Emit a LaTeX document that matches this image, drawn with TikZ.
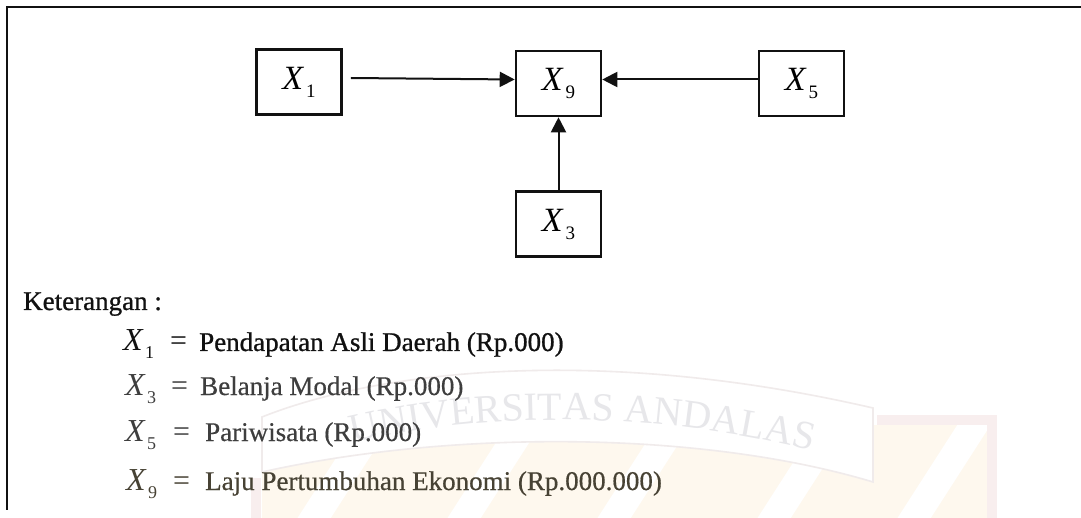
\documentclass[tikz,border=0pt]{standalone}
\usepackage{fontspec}
\setmainfont{Liberation Serif}
\newfontfamily\heavyserif[FakeBold=0.9]{Liberation Serif}
\newfontfamily\midserif[FakeBold=0.5]{Liberation Serif}
\usetikzlibrary{arrows.meta,decorations.text}

\definecolor{ink}{HTML}{111111}
\definecolor{greyink}{HTML}{3E3E3E}
\definecolor{oliveink}{HTML}{474234}
\definecolor{wmgrey}{HTML}{E7E7EA}
\definecolor{wmline}{HTML}{F0EBEB}
\definecolor{wmpeach}{HTML}{FEF8EE}
\definecolor{wmpink}{HTML}{F8EEEE}

\newcommand{\fs}[1]{\fontsize{#1}{#1}\selectfont}
% variable with subscript, as set inside the boxes and in the legend
\newcommand{\boxvar}[1]{{\fs{34}\itshape X}\kern3pt\raisebox{-8pt}{\fs{19}#1}}
\newcommand{\legvar}[1]{{\fs{32}\itshape X}\kern2.5pt\raisebox{-8pt}{\fs{18}#1}}

\begin{document}
\begin{tikzpicture}[x=1pt,y=-1pt,
  varbox/.style={draw=ink, line width=2.6pt, minimum width=85pt, minimum height=65pt, inner sep=0pt},
  link/.style={draw=ink, line width=2pt, -{Triangle[length=15pt,width=15pt]}},
  legtext/.style={anchor=base west, inner sep=0pt, font=\midserif\fs{27}},
  legstrong/.style={legtext, font=\heavyserif\fs{27}},
  legsym/.style={anchor=base west, inner sep=0pt},
]
\useasboundingbox (0,0) rectangle (1081,518);
\fill[white] (0,0) rectangle (1081,518);

% faint university emblem behind the legend
\begin{scope}
  \clip (262,472) .. controls (450,430) and (700,430) .. (873,482) -- (873,425) -- (990,425) -- (990,518) -- (262,518) -- cycle;
  \fill[wmpeach] (250,400) rectangle (1000,518);
  \foreach \sx in {300,450,600,760,900} {
    \draw[white, line width=28pt] (\sx,540) -- (\sx+90,400);
  }
\end{scope}
\draw[wmpink, line width=10pt] (256,518) -- (256,478);
\draw[wmpink, line width=10pt] (877,420) -- (992,420) -- (992,518);
\draw[wmline, line width=1.6pt]
  (262,417) .. controls (380,370) and (600,345) .. (873,408)
  -- (873,482) .. controls (700,430) and (450,430) .. (262,472) -- cycle;
\path[decorate, decoration={text along path, text align=center,
      text={|\fs{40}\color{wmgrey}|UNIVERSITAS ANDALAS}}]
  (300,458) .. controls (450,406) and (680,406) .. (865,466);

% frame
\draw[ink, line width=2.6pt] (1081,7) -- (7,7) -- (7,510);

% model
\node[varbox] (x1) at (299,82) {\boxvar{1}};
\node[varbox] (x9) at (558.5,83.5) {\boxvar{9}};
\node[varbox] (x5) at (801.5,83.5) {\boxvar{5}};
\node[varbox] (x3) at (558.5,224) {\boxvar{3}};

\draw[link] ([xshift=8pt,yshift=4pt]x1.east) -- ([yshift=4pt]x9.west);
\draw[link] ([yshift=4pt]x5.west) -- ([yshift=4pt]x9.east);
\draw[link] (x3.north) -- (x9.south);

% legend
\node[legstrong, text=ink] (ket) at (23,310) {Keterangan :};
\node[legsym, text=ink] (v1) at (123,351) {\legvar{1}};
\node[legsym, text=ink, font=\fs{30}] (e1) at (170,351) {=};
\node[legstrong, text=ink] (t1) at (199,351) {Pendapatan Asli Daerah (Rp.000)};
\node[legsym, text=greyink] (v3) at (125,395) {\legvar{3}};
\node[legsym, text=greyink, font=\fs{30}] (e3) at (171,395) {=};
\node[legtext, text=greyink] (t3) at (200,395) {Belanja Modal (Rp.000)};
\node[legsym, text=greyink] (v5) at (125,441) {\legvar{5}};
\node[legsym, text=greyink, font=\fs{30}] (e5) at (173,441) {=};
\node[legtext, text=greyink] (t5) at (205,441) {Pariwisata (Rp.000)};
\node[legsym, text=oliveink] (v9) at (126,490) {\legvar{9}};
\node[legsym, text=oliveink, font=\fs{30}] (e9) at (173,490) {=};
\node[legtext, text=oliveink] (t9) at (205,490) {Laju Pertumbuhan Ekonomi (Rp.000.000)};
\end{tikzpicture}
\end{document}
